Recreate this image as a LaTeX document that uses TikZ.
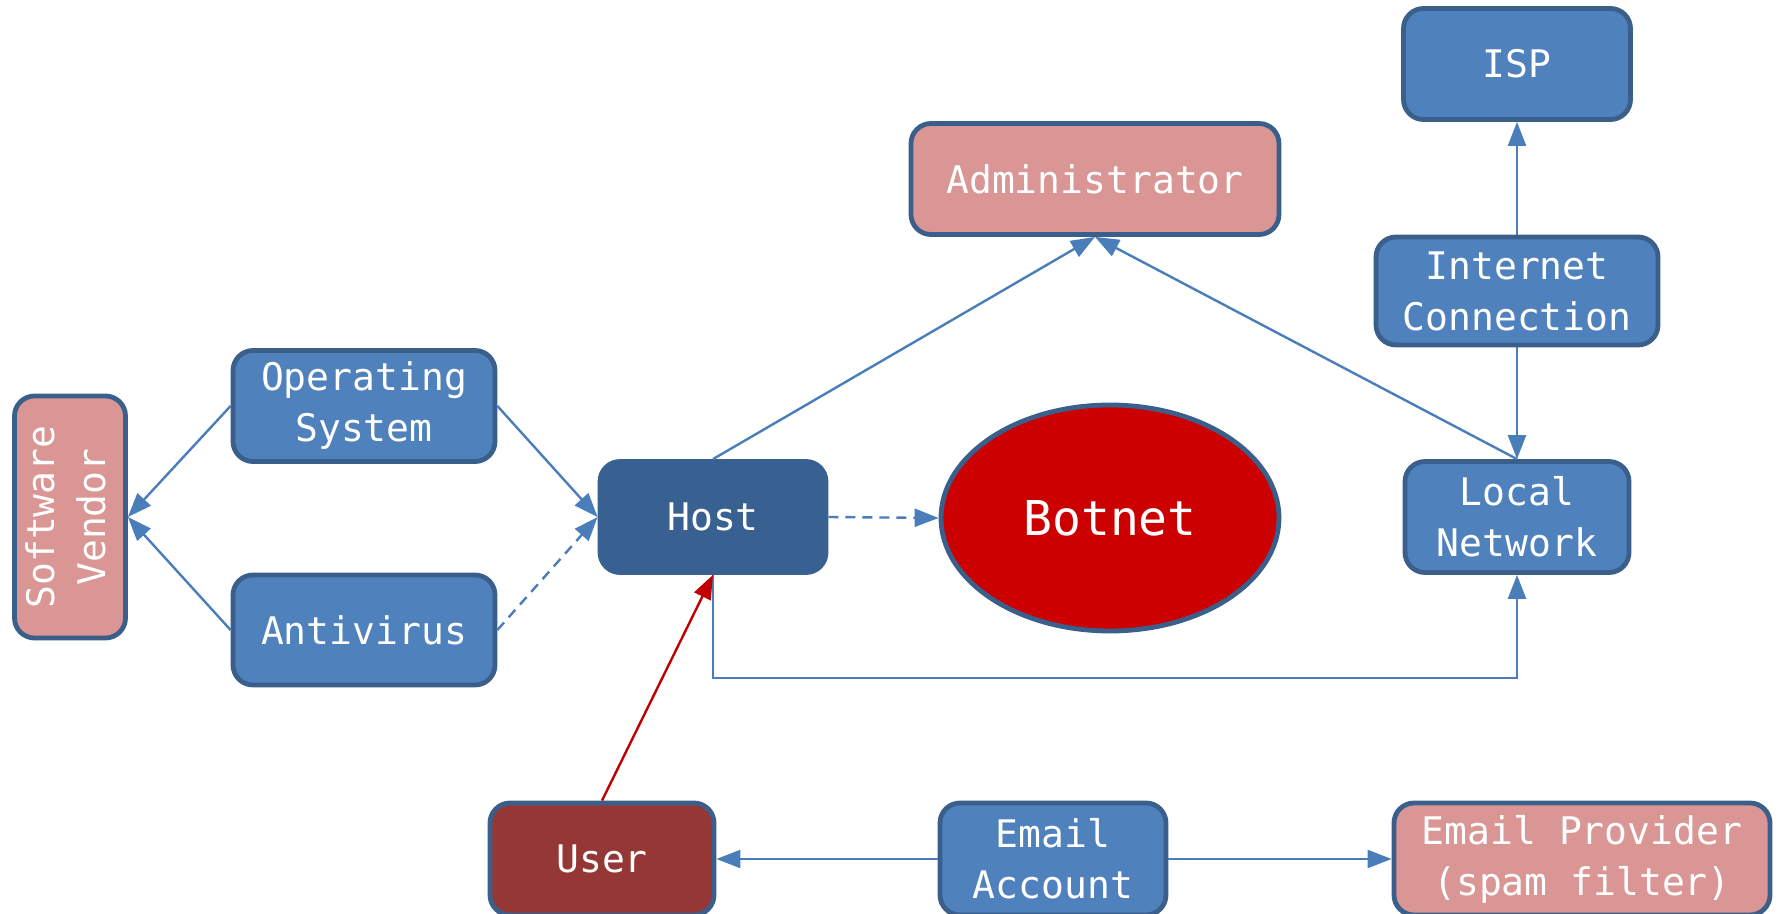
\documentclass[tikz,border=0pt]{standalone}
\usepackage{fontspec}
\setmainfont{DejaVu Sans Mono}
\usetikzlibrary{arrows.meta,shapes.geometric,positioning}

\definecolor{boxblue}{HTML}{4F81BD}
\definecolor{boxedge}{HTML}{3A5F8B}
\definecolor{hostblue}{HTML}{386192}
\definecolor{boxpink}{HTML}{D99694}
\definecolor{userred}{HTML}{953735}
\definecolor{botred}{HTML}{CC0000}
\definecolor{linkblue}{HTML}{4A7EBB}
\definecolor{linkred}{HTML}{C00000}

\tikzset{
  box/.style={draw=boxedge, line width=2.4pt, rounded corners=10pt,
    text=white, align=center, inner sep=0pt,
    font=\fontsize{19}{25.5}\selectfont},
  bluebox/.style={box, fill=boxblue},
  pinkbox/.style={box, fill=boxpink},
  hostbox/.style={box, fill=hostblue, draw=hostblue},
  userbox/.style={box, fill=userred},
  botshape/.style={ellipse, draw=boxedge, line width=2.4pt, fill=botred,
    text=white, inner sep=0pt, font=\fontsize{24}{30}\selectfont},
  link/.style={draw=linkblue, line width=1.2pt,
    -{Triangle[length=12pt,width=9pt]}},
  dashlink/.style={link, dash pattern=on 5pt off 3.5pt},
  redlink/.style={link, draw=linkred}
}

\begin{document}
\begin{tikzpicture}[x=0.5pt,y=-0.5pt]
  \clip (0,0) rectangle (1779,914);
  \fill[white] (0,0) rectangle (1779,914);

  % nodes
  \node[bluebox, minimum width=113.5pt, minimum height=55.5pt] (isp) at (1517,64) {ISP};
  \node[pinkbox, minimum width=184pt, minimum height=55.5pt] (admin) at (1095,179) {Administrator};
  \node[bluebox, minimum width=141pt, minimum height=54pt] (inet) at (1517,291) {Internet\\Connection};
  \node[bluebox, minimum width=112pt, minimum height=55.5pt] (lan) at (1517,517) {Local\\Network};
  \node[pinkbox, minimum width=55.5pt, minimum height=121pt] (vendor) at (70,517)
    {\rotatebox{90}{\begin{tabular}{@{}c@{}}Software\\Vendor\end{tabular}}};
  \node[bluebox, minimum width=131pt, minimum height=55.5pt] (os) at (364,406) {Operating\\System};
  \node[bluebox, minimum width=131pt, minimum height=55pt] (av) at (364,630) {Antivirus};
  \node[hostbox, minimum width=113pt, minimum height=55.5pt] (host) at (713,517) {Host};
  \node[botshape, minimum width=169pt, minimum height=113pt] (botnet) at (1110,518) {Botnet};
  \node[userbox, minimum width=112pt, minimum height=56pt] (user) at (602,859) {User};
  \node[bluebox, minimum width=113pt, minimum height=56pt] (email) at (1053,859) {Email\\Account};
  \node[pinkbox, minimum width=188pt, minimum height=56pt] (provider) at (1582,859) {Email Provider\\(spam filter)};

  \coordinate (bend) at (1517,678);

  % connectors
  \draw[link] (os.west) -- (vendor.east);
  \draw[link] (av.west) -- (vendor.east);
  \draw[link] (os.east) -- (host.west);
  \draw[dashlink] (av.east) -- (host.west);
  \draw[link] (host.north) -- (admin.south);
  \draw[link] (lan.north) -- (admin.south);
  \draw[dashlink] (host.east) -- (botnet.west);
  \draw[link] (host.south) |- (bend) -- (lan.south);
  \draw[link] (inet.north) -- (isp.south);
  \draw[link] (inet.south) -- (lan.north);
  \draw[redlink] (user.north) -- (host.south);
  \draw[link] (email.west) -- (user.east);
  \draw[link] (email.east) -- (provider.west);
\end{tikzpicture}
\end{document}
